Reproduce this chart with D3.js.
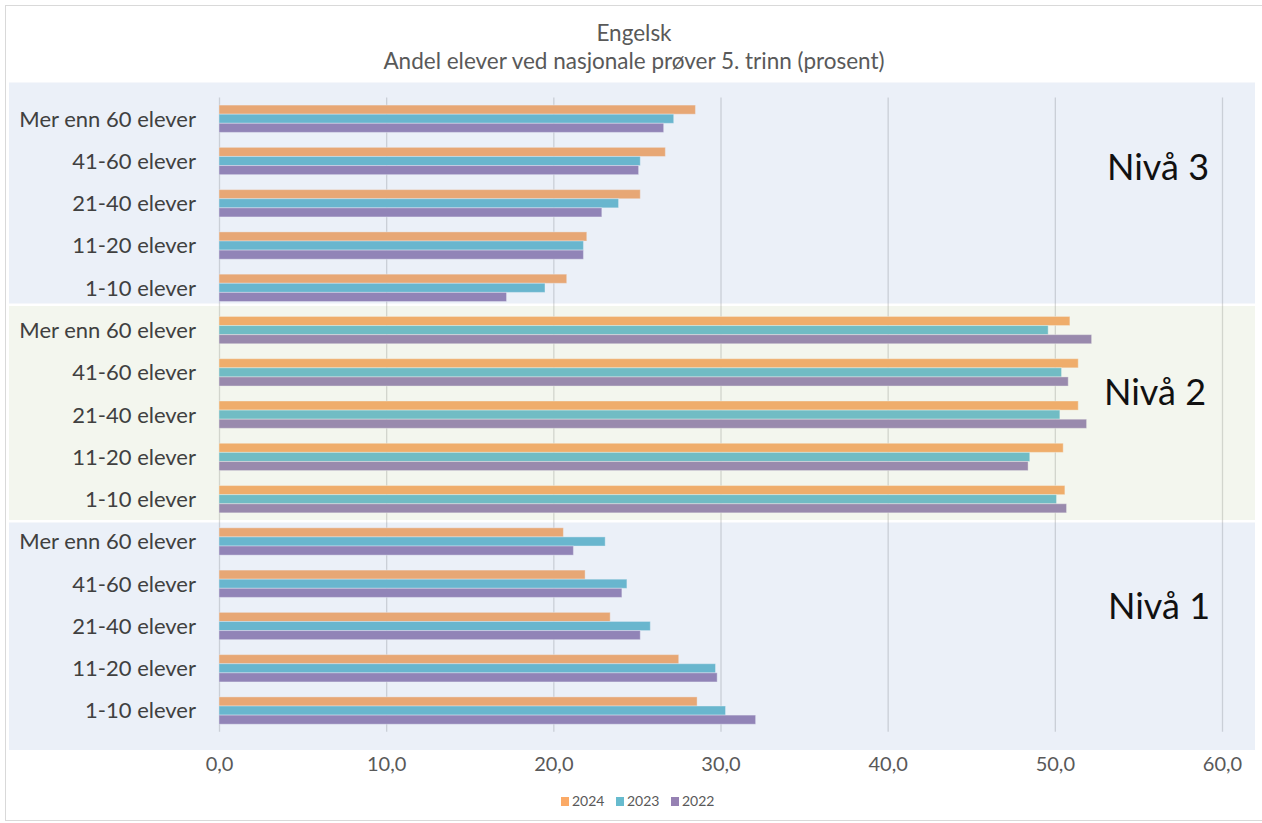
<!DOCTYPE html>
<html>
<head>
<meta charset="utf-8">
<script src="https://cdn.jsdelivr.net/npm/d3@7"></script>
<style>
  html, body { margin: 0; padding: 0; background: #ffffff; }
  svg { display: block; }
  text { font-family: Lato, "Open Sans", sans-serif; }
</style>
</head>
<body>
<svg id="chart" width="1262" height="823"></svg>
<script>
// ---- data ----
const titleLines = ["Engelsk", "Andel elever ved nasjonale prøver 5. trinn (prosent)"];
const groupLabels = ["Mer enn 60 elever", "41-60 elever", "21-40 elever", "11-20 elever", "1-10 elever"];
const levels = ["Nivå 3", "Nivå 2", "Nivå 1"];
const years = ["2024", "2023", "2022"];
const values2024 = [28.5, 26.7, 25.2, 22.0, 20.8,  50.9, 51.4, 51.4, 50.5, 50.6,  20.6, 21.9, 23.4, 27.5, 28.6];
const values2023 = [27.2, 25.2, 23.9, 21.8, 19.5,  49.6, 50.4, 50.3, 48.5, 50.1,  23.1, 24.4, 25.8, 29.7, 30.3];
const values2022 = [26.6, 25.1, 22.9, 21.8, 17.2,  52.2, 50.8, 51.9, 48.4, 50.7,  21.2, 24.1, 25.2, 29.8, 32.1];
const tickValues = [0, 10, 20, 30, 40, 50, 60];
const yearColors = ["#FBAA66", "#67BBCE", "#9681B3"];

// ---- build rows (top to bottom) ----
const seriesValues = [values2024, values2023, values2022];
const rows = [];
levels.forEach((lvl, li) => {
  groupLabels.forEach((g, gi) => {
    const idx = li * groupLabels.length + gi;
    rows.push({ key: lvl + "|" + g, level: lvl, label: g,
      vals: years.map((yr, yi) => ({ year: yr, value: seriesValues[yi][idx] })) });
  });
});

const svg = d3.select("#chart");
const W = 1262, H = 823;
const plot = { left: 219, right: 1222, top: 97.6, bottom: 731.7 };

// outer border
svg.append("rect").attr("x", 5.5).attr("y", 5.5).attr("width", W + 10).attr("height", 815)
  .attr("fill", "#fff").attr("stroke", "#D9D9D9").attr("stroke-width", 1);

// title
svg.append("text").attr("x", 634).attr("y", 41).attr("text-anchor", "middle")
  .attr("font-size", 22.5).attr("fill", "#595959").text(titleLines[0]);
svg.append("text").attr("x", 634).attr("y", 68.5).attr("text-anchor", "middle")
  .attr("font-size", 22.5).attr("fill", "#595959").text(titleLines[1]);

// scales
const x = d3.scaleLinear().domain([0, 60]).range([plot.left, plot.right]);
const y = d3.scaleBand().domain(rows.map(r => r.key)).range([plot.top, plot.bottom])
  .paddingInner(0.354).paddingOuter(0.177);
const ySub = d3.scaleBand().domain(years).range([0, y.bandwidth()]);
const color = d3.scaleOrdinal().domain(years).range(yearColors);

// gridlines
const grid = svg.append("g").attr("transform", `translate(0,${plot.bottom})`)
  .call(d3.axisBottom(x).tickValues(tickValues).tickSize(-(plot.bottom - plot.top)).tickFormat(""));
grid.select(".domain").remove();
grid.selectAll("line").attr("stroke", "#D9D9D9").attr("stroke-width", 1.3);

// bars
const groups = svg.append("g").selectAll("g").data(rows).join("g")
  .attr("transform", d => `translate(0,${y(d.key)})`);
groups.selectAll("rect").data(d => d.vals).join("rect")
  .attr("x", x(0))
  .attr("y", d => ySub(d.year))
  .attr("width", d => x(d.value) - x(0))
  .attr("height", ySub.bandwidth())
  .attr("fill", d => color(d.year))
  .attr("stroke", "#ffffff").attr("stroke-opacity", 0.4).attr("stroke-width", 1);

// translucent level panels (drawn over the bars as in the original)
const panelSpec = [
  { level: "Nivå 3", y0: 82.5, y1: 303.5, fill: "rgb(122,155,208)" },
  { level: "Nivå 2", y0: 306, y1: 520, fill: "rgb(175,195,142)" },
  { level: "Nivå 1", y0: 522.5, y1: 750, fill: "rgb(122,155,208)" }
];
svg.append("g").selectAll("rect").data(panelSpec).join("rect")
  .attr("x", 9).attr("width", 1246)
  .attr("y", d => d.y0).attr("height", d => d.y1 - d.y0)
  .attr("fill", d => d.fill).attr("fill-opacity", 0.15);

// category labels
svg.append("g").selectAll("text").data(rows).join("text")
  .attr("x", 196)
  .attr("y", d => y(d.key) + y.bandwidth() / 2)
  .attr("dy", "0.36em")
  .attr("text-anchor", "end")
  .attr("font-size", 22)
  .attr("fill", "#404040")
  .text(d => d.label);

// x axis tick labels
const nb = d3.formatLocale({ decimal: ",", thousands: " ", grouping: [3], currency: ["", " kr"] });
const xAxis = svg.append("g").attr("transform", `translate(0,${plot.bottom})`)
  .call(d3.axisBottom(x).tickValues(tickValues).tickSize(0).tickPadding(0).tickFormat(nb.format(".1f")));
xAxis.select(".domain").remove();
xAxis.selectAll("text").attr("y", 39).attr("dy", 0)
  .attr("font-size", 20).attr("font-family", "Lato, sans-serif").attr("fill", "#595959");

// level labels
const levelLabelPos = { "Nivå 3": [1107, 179.5], "Nivå 2": [1104, 405], "Nivå 1": [1108, 619] };
svg.append("g").selectAll("text").data(levels).join("text")
  .attr("x", d => levelLabelPos[d][0]).attr("y", d => levelLabelPos[d][1])
  .attr("font-size", 36).attr("fill", "#111111")
  .text(d => d);

// legend
const legend = svg.append("g").attr("transform", "translate(561,797)");
const li = legend.selectAll("g").data(years).join("g")
  .attr("transform", (d, i) => `translate(${i * 55},0)`);
li.append("rect").attr("width", 8).attr("height", 9).attr("fill", d => color(d));
li.append("text").attr("x", 11).attr("y", 9).attr("font-size", 14).attr("fill", "#595959").text(d => d);
</script>
</body>
</html>
